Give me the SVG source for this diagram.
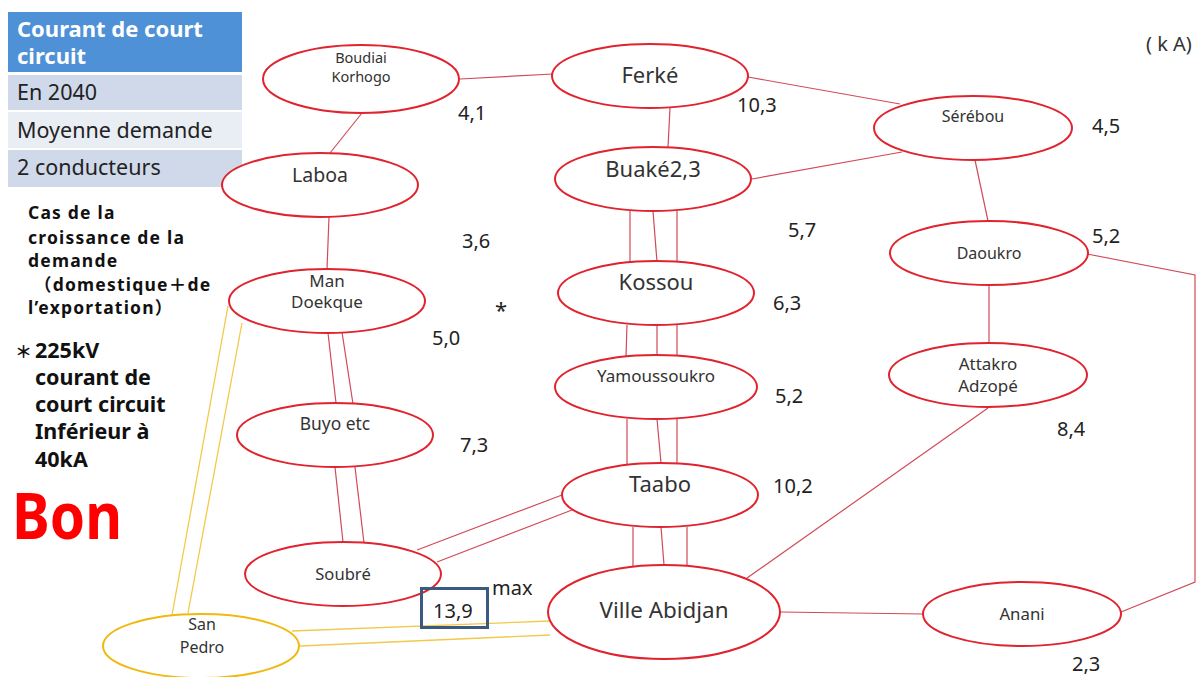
<svg xmlns="http://www.w3.org/2000/svg" width="1204" height="677" viewBox="0 0 1204 677">
  <style>
    .node { fill: #ffffff; stroke: #e0232e; stroke-width: 2; }
    .node-y { fill: #ffffff; stroke: #f0b90f; stroke-width: 2; }
    .lbl { font-family: "Noto Sans", "Liberation Sans", sans-serif; fill: #333333; text-anchor: middle; }
    .val { font-family: "Noto Sans", "Liberation Sans", sans-serif; fill: #222222; font-size: 20px; }
    .note { font-family: "Noto Sans", "Noto Sans CJK JP", sans-serif; font-weight: bold; fill: #111111; }
    .small { font-size: 17.5px; letter-spacing: 1.2px; }
    .leg { font-family: "Noto Sans", "Liberation Sans", sans-serif; fill: #222222; font-size: 21.5px; }
    #connectors line, #connectors polyline { fill: none; stroke: #d24a58; stroke-width: 1.2; }
    #connectors .yl { stroke: #f2c94c; stroke-width: 1.3; }
  </style>

  <rect width="1204" height="677" fill="#ffffff"/>

  <!-- legend table -->
  <g id="legend">
    <rect x="8" y="12" width="234" height="60" fill="#4f91d6"/>
    <rect x="8" y="75" width="234" height="35" fill="#cfd9ea"/>
    <rect x="8" y="112" width="234" height="36" fill="#e9edf4"/>
    <rect x="8" y="150" width="234" height="37" fill="#cfd9ea"/>
    <text x="17" y="37" font-family="Noto Sans, Liberation Sans, sans-serif" font-size="22" font-weight="bold" fill="#ffffff">Courant de court</text>
    <text x="17" y="64" font-family="Noto Sans, Liberation Sans, sans-serif" font-size="22" font-weight="bold" fill="#ffffff">circuit</text>
    <text class="leg" x="17" y="100">En 2040</text>
    <text class="leg" x="17" y="138">Moyenne demande</text>
    <text class="leg" x="17" y="175">2 conducteurs</text>
  </g>

  <!-- notes -->
  <g id="notes">
    <text class="note small" x="28" y="219">Cas de la</text>
    <text class="note small" x="28" y="244">croissance de la</text>
    <text class="note small" x="28" y="267">demande</text>
    <text class="note small" x="34" y="291">（domestique＋de</text>
    <text class="note small" x="28" y="314">l’exportation）</text>
    <text class="note" x="15" y="358"><tspan font-size="17">＊</tspan><tspan font-size="21.5" x="35">225kV</tspan></text>
    <text class="note" font-size="21.5" x="35" y="385">courant de</text>
    <text class="note" font-size="21.5" x="35" y="412">court circuit</text>
    <text class="note" font-size="21.5" x="35" y="439">Inférieur à</text>
    <text class="note" font-size="21.5" x="35" y="467">40kA</text>
    <text x="12" y="539" font-family="Noto Sans, Liberation Sans, sans-serif" font-size="64" font-weight="bold" fill="#ff0000" textLength="110" lengthAdjust="spacingAndGlyphs">Bon</text>
    <text x="1146" y="51" font-family="Noto Sans, Liberation Sans, sans-serif" font-size="20" fill="#333333">( k A)</text>
    <text x="495" y="318" font-family="Noto Sans, Liberation Sans, sans-serif" font-size="22" fill="#222222">*</text>
  </g>

  <!-- connectors -->
  <g id="connectors">
    <line x1="460" y1="79" x2="553" y2="74"/>
    <line x1="362" y1="113" x2="330" y2="153"/>
    <line x1="329" y1="217" x2="327" y2="269"/>
    <line x1="670" y1="108" x2="668" y2="147"/>
    <line x1="748" y1="77" x2="900" y2="104"/>
    <line x1="752" y1="179" x2="902" y2="152"/>
    <line x1="975" y1="160" x2="988" y2="221"/>
    <polyline points="1087,254 1195,275 1195,582 1121,612"/>
    <line x1="989" y1="285" x2="989" y2="343"/>
    <line x1="988" y1="408" x2="747" y2="578"/>
    <line x1="780" y1="612" x2="923" y2="614"/>
    <!-- Buaké - Kossou -->
    <line x1="630" y1="211" x2="630" y2="263"/>
    <line x1="653" y1="211" x2="657" y2="262"/>
    <line x1="677" y1="211" x2="677" y2="262"/>
    <!-- Kossou - Yamoussoukro -->
    <line x1="627" y1="325" x2="626" y2="356"/>
    <line x1="657" y1="325" x2="657" y2="355"/>
    <line x1="677" y1="325" x2="677" y2="355"/>
    <!-- Yamoussoukro - Taabo -->
    <line x1="627" y1="419" x2="627" y2="464"/>
    <line x1="657" y1="419" x2="661" y2="463"/>
    <line x1="677" y1="419" x2="677" y2="463"/>
    <!-- Taabo - Ville Abidjan -->
    <line x1="633" y1="527" x2="633" y2="566"/>
    <line x1="661" y1="527" x2="664" y2="565"/>
    <line x1="687" y1="527" x2="687" y2="566"/>
    <!-- Taabo - Soubré -->
    <line x1="562" y1="495" x2="417" y2="550"/>
    <line x1="572" y1="510" x2="437" y2="562"/>
    <!-- Man - Buyo -->
    <line x1="328" y1="333" x2="336" y2="403"/>
    <line x1="342" y1="332" x2="353" y2="404"/>
    <!-- Buyo - Soubré -->
    <line x1="335" y1="467" x2="343" y2="542"/>
    <line x1="355" y1="467" x2="364" y2="543"/>
    <!-- San Pedro links -->
    <line class="yl" x1="228" y1="306" x2="172" y2="615"/>
    <line class="yl" x1="242" y1="323" x2="188" y2="613"/>
    <line class="yl" x1="292" y1="631" x2="550" y2="621"/>
    <line class="yl" x1="300" y1="646" x2="550" y2="635"/>
  </g>

  <!-- nodes -->
  <g id="n-boudiai">
    <ellipse class="node" cx="361" cy="79" rx="98" ry="34"/>
    <text class="lbl" x="361" y="63" font-size="14.5">Boudiai</text>
    <text class="lbl" x="361" y="82" font-size="14.5">Korhogo</text>
  </g>
  <g id="n-ferke">
    <ellipse class="node" cx="650" cy="76" rx="98" ry="32"/>
    <text class="lbl" x="650" y="83" font-size="22">Ferké</text>
  </g>
  <g id="n-laboa">
    <ellipse class="node" cx="320" cy="185" rx="98" ry="32"/>
    <text class="lbl" x="320" y="182" font-size="19.5">Laboa</text>
  </g>
  <g id="n-buake">
    <ellipse class="node" cx="653" cy="179" rx="98" ry="32"/>
    <text class="lbl" x="653" y="177" font-size="22">Buaké2,3</text>
  </g>
  <g id="n-serebou">
    <ellipse class="node" cx="973" cy="128" rx="99" ry="32"/>
    <text class="lbl" x="973" y="122" font-size="16">Sérébou</text>
  </g>
  <g id="n-man">
    <ellipse class="node" cx="327" cy="301" rx="98" ry="32"/>
    <text class="lbl" x="327" y="287" font-size="17">Man</text>
    <text class="lbl" x="327" y="308" font-size="17">Doekque</text>
  </g>
  <g id="n-kossou">
    <ellipse class="node" cx="656" cy="293" rx="98" ry="32"/>
    <text class="lbl" x="656" y="290" font-size="22">Kossou</text>
  </g>
  <g id="n-daoukro">
    <ellipse class="node" cx="989" cy="253" rx="99" ry="32"/>
    <text class="lbl" x="989" y="259" font-size="16">Daoukro</text>
  </g>
  <g id="n-yamoussoukro">
    <ellipse class="node" cx="656" cy="387" rx="101" ry="32"/>
    <text class="lbl" x="656" y="382" font-size="17">Yamoussoukro</text>
  </g>
  <g id="n-attakro">
    <ellipse class="node" cx="988" cy="375" rx="99" ry="32"/>
    <text class="lbl" x="988" y="370" font-size="17">Attakro</text>
    <text class="lbl" x="988" y="392" font-size="17">Adzopé</text>
  </g>
  <g id="n-buyo">
    <ellipse class="node" cx="335" cy="435" rx="98" ry="32"/>
    <text class="lbl" x="335" y="430" font-size="17.4">Buyo etc</text>
  </g>
  <g id="n-taabo">
    <ellipse class="node" cx="660" cy="495" rx="98" ry="32"/>
    <text class="lbl" x="660" y="492" font-size="22">Taabo</text>
  </g>
  <g id="n-soubre">
    <ellipse class="node" cx="343" cy="574" rx="98" ry="32"/>
    <text class="lbl" x="343" y="580" font-size="16.6">Soubré</text>
  </g>
  <g id="n-abidjan">
    <ellipse class="node" cx="664" cy="612" rx="116" ry="47"/>
    <text class="lbl" x="664" y="618" font-size="22.4">Ville Abidjan</text>
  </g>
  <g id="n-anani">
    <ellipse class="node" cx="1022" cy="614" rx="99" ry="32"/>
    <text class="lbl" x="1022" y="620" font-size="16.8">Anani</text>
  </g>
  <g id="n-sanpedro">
    <ellipse class="node-y" cx="201" cy="646" rx="98" ry="32"/>
    <text class="lbl" x="202" y="630" font-size="16">San</text>
    <text class="lbl" x="202" y="653" font-size="16">Pedro</text>
  </g>

  <!-- short-circuit current values -->
  <g id="values">
    <text class="val" x="458" y="120">4,1</text>
    <text class="val" x="737" y="112">10,3</text>
    <text class="val" x="1092" y="133">4,5</text>
    <text class="val" x="462" y="248">3,6</text>
    <text class="val" x="788" y="237">5,7</text>
    <text class="val" x="1092" y="243">5,2</text>
    <text class="val" x="773" y="310">6,3</text>
    <text class="val" x="432" y="345">5,0</text>
    <text class="val" x="775" y="403">5,2</text>
    <text class="val" x="1057" y="436">8,4</text>
    <text class="val" x="460" y="452">7,3</text>
    <text class="val" x="773" y="493">10,2</text>
    <text class="val" x="492" y="595">max</text>
    <text class="val" x="1072" y="671">2,3</text>
    <rect x="421.5" y="588.5" width="66" height="39" fill="none" stroke="#3a5a80" stroke-width="3"/>
    <text class="val" x="433" y="618">13,9</text>
  </g>
</svg>
